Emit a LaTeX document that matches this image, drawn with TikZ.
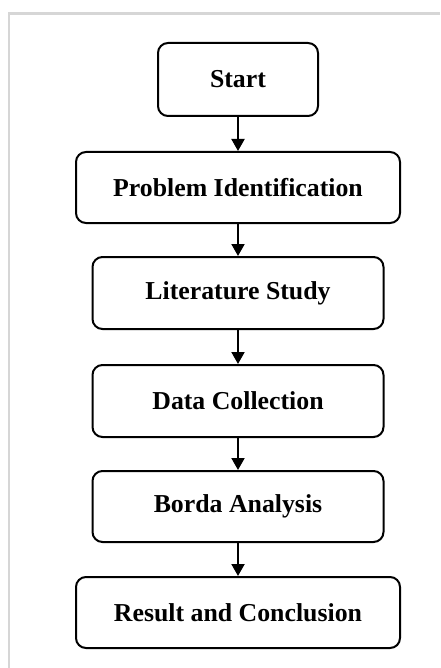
\documentclass[tikz,border=0pt]{standalone}
\usepackage{fontspec}
\setmainfont{Liberation Serif}
\usetikzlibrary{arrows.meta}
\definecolor{framegray}{RGB}{214,214,214}
\begin{document}
\begin{tikzpicture}[x=1pt,y=-1pt,
  stepbox/.style={draw=black, line width=2pt, rounded corners=10pt, fill=white,
    inner sep=0pt, font=\fontsize{25.8}{30}\selectfont\bfseries},
  flow/.style={draw=black, line width=2pt, -{Triangle[length=12pt,width=13pt]}}]
\useasboundingbox (0,0) rectangle (440,668);
\fill[white] (0,0) rectangle (440,668);
\draw[framegray, line width=2.6pt] (9,668) -- (9,13.5) -- (440,13.5);
\node[stepbox, minimum width=160pt, minimum height=73pt] (s) at (238,79.5) {Start};
\node[stepbox, minimum width=324pt, minimum height=71pt] (p) at (238,187.5) {Problem Identification};
\node[stepbox, minimum width=291pt, minimum height=72pt] (l) at (238,293) {Literature Study};
\node[stepbox, minimum width=291pt, minimum height=72pt] (d) at (238,401) {Data Collection};
\node[stepbox, minimum width=291pt, minimum height=71pt] (b) at (238,506.5) {Borda Analysis};
\node[stepbox, minimum width=324pt, minimum height=71pt] (r) at (238,612.5) {Result and Conclusion};
\draw[flow] (s) -- (p);
\draw[flow] (p) -- (l);
\draw[flow] (l) -- (d);
\draw[flow] (d) -- (b);
\draw[flow] (b) -- (r);
\end{tikzpicture}
\end{document}
